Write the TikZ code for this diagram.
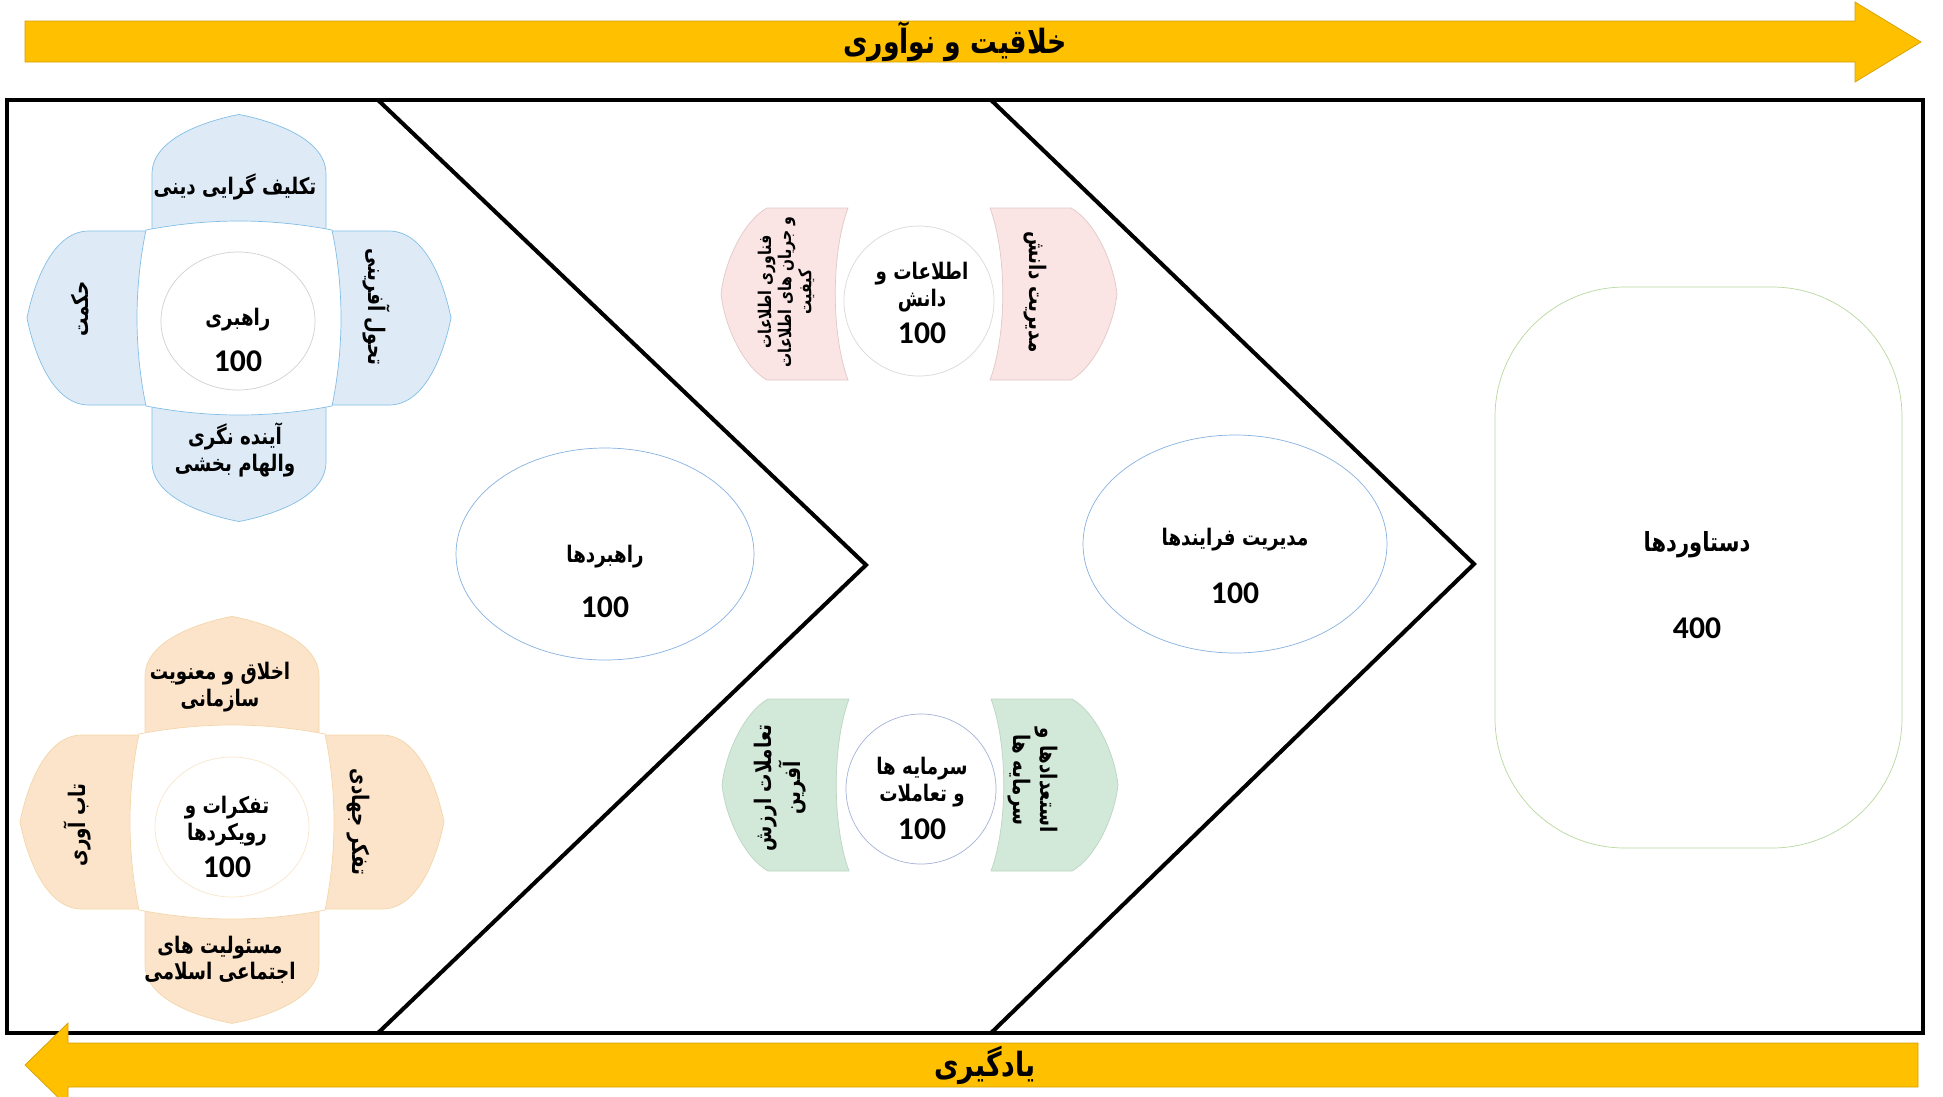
\documentclass[tikz,border=0pt]{standalone}
\usepackage{fontspec}
\newfontfamily\arabicfont[Script=Arabic,FakeStretch=0.8]{DejaVu Sans}
\newfontfamily\numfont{Carlito}
\TeXXeTstate=1
\newcommand{\fa}[1]{\beginR#1\endR}
% one petal of a flower, pointing right before rotation
\newcommand{\petal}[6]{%
\filldraw[fill=#4,draw=#5,shift={(#1,#2)},rotate=#3,xscale=#6] (0,-87) -- (150,-87)
 .. controls (190,-87) and (207,-25) .. (212,0)
 .. controls (207,25) and (190,87) .. (150,87) -- (0,87) -- cycle;}
% white cushion in the middle of a flower
\newcommand{\cushion}[3]{%
\filldraw[fill=white,draw=#3,shift={(#1,#2)}] (-93,-88)
 .. controls (-30,-100) and (30,-100) .. (93,-88)
 .. controls (105,-30) and (105,30) .. (93,88)
 .. controls (30,100) and (-30,100) .. (-93,88)
 .. controls (-105,30) and (-105,-30) .. (-93,-88) -- cycle;}
% side petal with a hollow inner side
\newcommand{\sidepetal}[4]{%
\filldraw[fill=#3,draw=#4,shift={(#1,#2)}] (-71,-86) -- (-152,-86)
 .. controls (-174,-74) and (-194,-35) .. (-198,0)
 .. controls (-194,35) and (-174,74) .. (-152,86) -- (-71,86)
 .. controls (-88,40) and (-88,-40) .. (-71,-86) -- cycle;}
\definecolor{gold}{RGB}{255,192,0}
\definecolor{golddark}{RGB}{214,160,0}
\definecolor{bluefill}{RGB}{222,235,247}
\definecolor{blueline}{RGB}{130,190,230}
\definecolor{orangefill}{RGB}{252,228,202}
\definecolor{orangeline}{RGB}{244,214,170}
\definecolor{pinkfill}{RGB}{250,228,228}
\definecolor{pinkline}{RGB}{226,200,200}
\definecolor{greenfill}{RGB}{210,232,216}
\definecolor{greenline}{RGB}{188,214,196}
\definecolor{ringline}{RGB}{165,178,215}
\definecolor{ovalline}{RGB}{135,178,225}
\definecolor{boxline}{RGB}{185,216,160}
\begin{document}
\begin{tikzpicture}[x=0.02cm,y=-0.02cm,
txt/.style={font=\arabicfont\bfseries\fontsize{13}{15}\selectfont,align=center,inner sep=0pt},
bigtxt/.style={font=\arabicfont\bfseries\fontsize{19}{22}\selectfont,inner sep=0pt},
num/.style={font=\numfont\bfseries\fontsize{18}{20}\selectfont,inner sep=0pt},
thickline/.style={line width=2.3pt,line join=miter}]
\useasboundingbox (0,0) rectangle (1943,1096);
\fill[white] (0,0) rectangle (1943,1096);

% frame and chevrons
\draw[thickline,line width=2pt] (7,100) rectangle (1923,1033);
\draw[thickline] (378,100) -- (866,565) -- (378,1033);
\draw[thickline] (991,100) -- (1474,564) -- (991,1033);

% arrows
\filldraw[fill=gold,draw=golddark] (25,21) -- (1855,21) -- (1855,2) -- (1921,42)
 -- (1855,82) -- (1855,62) -- (25,62) -- cycle;
\node[bigtxt] (creat) at (955,42) {\fa{خلاقیت و نوآوری}};
\filldraw[fill=gold,draw=golddark] (1918,1043) -- (68,1043) -- (68,1023) -- (25,1065)
 -- (68,1107) -- (68,1087) -- (1918,1087) -- cycle;
\node[bigtxt] (learn) at (985,1065) {\fa{یادگیری}};

% blue flower
\petal{239}{318}{0}{bluefill}{blueline}{1}
\petal{239}{318}{90}{bluefill}{blueline}{0.96}
\petal{239}{318}{180}{bluefill}{blueline}{1}
\petal{239}{318}{-90}{bluefill}{blueline}{0.96}
\cushion{239}{318}{blueline}
\draw[fill=white,draw=black!18] (238,321) ellipse [x radius=77,y radius=69];
\node[txt] (lead-top) at (235,187) {\fa{تکلیف گرایی دینی}};
\node[txt,rotate=90] (lead-left) at (80,309) {\fa{حکمت}};
\node[txt,rotate=-90] (lead-right) at (377,307) {\fa{تحول آفرینی}};
\node[txt] (lead-bot) at (235,450) {\fa{آینده نگری}\\\fa{والهام بخشی}};
\node[txt] (lead) at (238,320) {\fa{راهبری}};
\node[num] (lead-num) at (238,361) {100};

% orange flower
\petal{232}{822}{0}{orangefill}{orangeline}{1}
\petal{232}{822}{90}{orangefill}{orangeline}{0.97}
\petal{232}{822}{180}{orangefill}{orangeline}{1}
\petal{232}{822}{-90}{orangefill}{orangeline}{0.95}
\cushion{232}{822}{orangeline}
\draw[fill=white,draw=orangeline!60] (232,827) ellipse [x radius=77,y radius=70];
\node[txt] (ethic-top) at (220,687) {\fa{اخلاق و معنویت}\\\fa{سازمانی}};
\node[txt,rotate=90] (ethic-left) at (77,825) {\fa{تاب آوری}};
\node[txt,rotate=-90] (ethic-right) at (358,822) {\fa{تفکر جهادی}};
\node[txt] (ethic-bot) at (220,960) {\fa{مسئولیت های}\\\fa{اجتماعی اسلامی}};
\node[txt] (ethic) at (227,821) {\fa{تفکرات و}\\\fa{رویکردها}};
\node[num] (ethic-num) at (227,867) {100};

% pink group
\sidepetal{919}{294}{pinkfill}{pinkline}
\begin{scope}[shift={(919,294)},xscale=-1]
\sidepetal{0}{0}{pinkfill}{pinkline}
\end{scope}
\draw[fill=white,draw=black!15] (919,301) circle [radius=75];
\node[txt,rotate=90,font=\arabicfont\bfseries\fontsize{10}{11.5}\selectfont] (info-left) at (786,292)
 {\fa{فناوری اطلاعات}\\\fa{و جریان های اطلاعات}\\\fa{کیفیت}};
\node[txt,rotate=-90] (info-right) at (1035,292) {\fa{مدیریت دانش}};
\node[txt] (info) at (922,287) {\fa{اطلاعات و}\\\fa{دانش}};
\node[num] (info-num) at (922,333) {100};

% green group
\sidepetal{920}{785}{greenfill}{greenline}
\begin{scope}[shift={(920,785)},xscale=-1]
\sidepetal{0}{0}{greenfill}{greenline}
\end{scope}
\draw[fill=white,draw=ringline] (921,789) circle [radius=75];
\node[txt,rotate=90] (cap-left) at (780,788) {\fa{تعاملات ارزش}\\\fa{آفرین}};
\node[txt,rotate=-90] (cap-right) at (1033,780) {\fa{استعدادها و}\\\fa{سرمایه ها}};
\node[txt] (cap) at (922,782) {\fa{سرمایه ها}\\\fa{و تعاملات}};
\node[num] (cap-num) at (922,829) {100};

% ovals
\draw[ovalline] (605,554) ellipse [x radius=149,y radius=106];
\node[txt] (strat) at (605,557) {\fa{راهبردها}};
\node[num] (strat-num) at (605,607) {100};
\draw[ovalline] (1235,544) ellipse [x radius=152,y radius=109];
\node[txt] (proc) at (1235,540) {\fa{مدیریت فرایندها}};
\node[num] (proc-num) at (1235,593) {100};

% results box
\draw[boxline,rounded corners=2.6cm] (1495,287) rectangle (1902,848);
\node[txt,font=\arabicfont\bfseries\fontsize{15}{17}\selectfont] (res) at (1697,545) {\fa{دستاوردها}};
\node[num] (res-num) at (1697,628) {400};
\end{tikzpicture}
\end{document}
